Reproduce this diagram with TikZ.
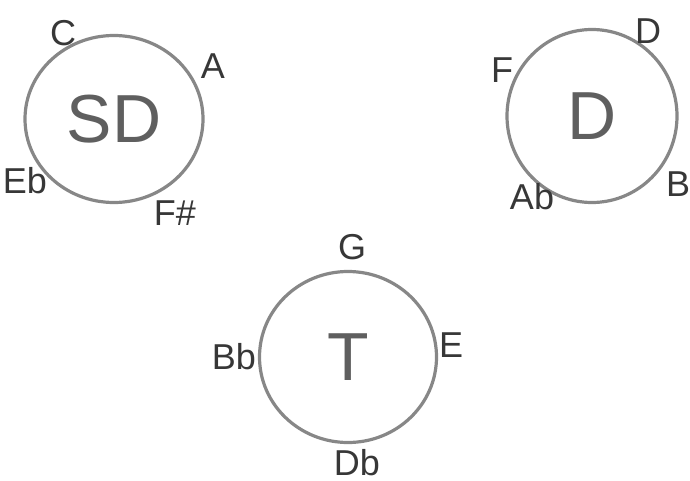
\documentclass[tikz,border=0pt]{standalone}
\usepackage{fontspec}
\setmainfont{Liberation Sans}
\usetikzlibrary{shapes.geometric}
\definecolor{pencil}{RGB}{135,135,135}
\definecolor{lead}{RGB}{55,55,55}

\begin{document}
\begin{tikzpicture}[x=0.5pt,y=-0.5pt,
    region/.style={draw=pencil,line width=1.6pt,ellipse,inner sep=0pt,
      font=\fontsize{34}{36}\selectfont,text=lead!80},
    note/.style={font=\fontsize{18}{20}\selectfont,text=lead}]
  \useasboundingbox (0,0) rectangle (690,481);
  % subdominant
  \node[region,minimum width=89pt,minimum height=83.5pt] (sd) at (114,119) {SD};
  \node[note] (sdC) at (63,33) {C};
  \node[note] (sdA) at (213,66) {A};
  \node[note] (sdEb) at (25,181) {Eb};
  \node[note] (sdFs) at (175,213) {F\#};
  % dominant
  \node[region,minimum width=85pt,minimum height=86.5pt] (dom) at (592,116) {D};
  \node[note] (domD) at (648,31) {D};
  \node[note] (domF) at (502,70) {F};
  \node[note] (domAb) at (532,197) {Ab};
  \node[note] (domB) at (678,184) {B};
  % tonic
  \node[region,minimum width=88.5pt,minimum height=85.5pt] (ton) at (348,357) {T};
  \node[note] (tonG) at (352,247) {G};
  \node[note] (tonBb) at (234,357) {Bb};
  \node[note] (tonE) at (451,345) {E};
  \node[note] (tonDb) at (357,463) {Db};
\end{tikzpicture}
\end{document}
